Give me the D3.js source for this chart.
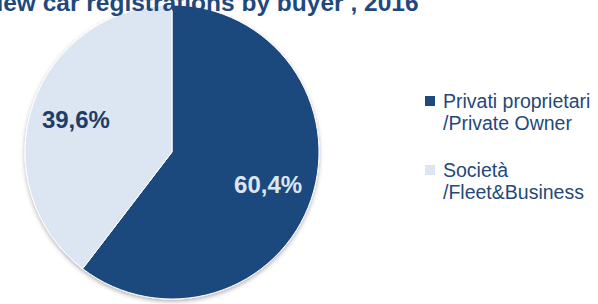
<!DOCTYPE html>
<html>
<head>
<meta charset="utf-8">
<script src="https://cdn.jsdelivr.net/npm/d3@7"></script>
<style>
  body { margin: 0; background: #fff; }
  svg { display: block; font-family: "Liberation Sans", Arial, sans-serif; }
</style>
</head>
<body>
<script>
const categories = ["Privati proprietari /Private Owner", "Società /Fleet&Business"];
const legendLines = [["Privati proprietari", "/Private Owner"], ["Società", "/Fleet&Business"]];
const values = [60.4, 39.6];
const valueLabels = ["60,4%", "39,6%"];
const title = "New car registrations by buyer , 2016";

const w = 598;
const h = 304;
const cx = 172;
const cy = 152;
const r = 147;

const colors = ["#1f497d", "#dce6f2"];
const labelColors = ["#dce6f2", "#1f3d66"];

const svg = d3.select("body").append("svg").attr("width", w).attr("height", h);

// soft shadow round the pie
const defs = svg.append("defs");
const f = defs.append("filter").attr("id", "shadow")
  .attr("x", "-10%").attr("y", "-10%").attr("width", "120%").attr("height", "120%");
f.append("feDropShadow")
  .attr("dx", 0).attr("dy", 2).attr("stdDeviation", 2)
  .attr("flood-color", "#000").attr("flood-opacity", 0.3);

const pie = d3.pie().sort(null).value((d) => d)(values);
const arc = d3.arc().innerRadius(0).outerRadius(r);
const labelArc = d3.arc().innerRadius(r * 0.69).outerRadius(r * 0.69);

const g = svg.append("g").attr("transform", "translate(" + cx + "," + cy + ")");

g.append("g")
  .attr("filter", "url(#shadow)")
  .selectAll("path")
  .data(pie)
  .enter()
  .append("path")
  .attr("d", arc)
  .attr("fill", (d, i) => colors[i])
  .attr("stroke", "#fff")
  .attr("stroke-width", 1);

g.selectAll("text.lbl")
  .data(pie)
  .enter()
  .append("text")
  .attr("class", "lbl")
  .attr("transform", (d) => "translate(" + labelArc.centroid(d) + ")")
  .attr("text-anchor", "middle")
  .attr("dy", "0.35em")
  .attr("font-size", 24)
  .attr("font-weight", "bold")
  .attr("fill", (d, i) => labelColors[i])
  .text((d, i) => valueLabels[i]);

// title, cut off by the top edge as in the source
svg.append("text")
  .attr("x", 202)
  .attr("y", 11)
  .attr("text-anchor", "middle")
  .attr("font-size", 24.5)
  .attr("font-weight", "bold")
  .attr("fill", "#1f497d")
  .text(title);

// legend
const legend = svg.append("g").attr("transform", "translate(425,96)");
const item = legend.selectAll("g")
  .data(categories)
  .enter()
  .append("g")
  .attr("transform", (d, i) => "translate(0," + i * 69 + ")");

item.append("rect")
  .attr("width", 10)
  .attr("height", 10)
  .attr("fill", (d, i) => colors[i]);

item.append("text")
  .attr("x", 18)
  .attr("y", 12)
  .attr("font-size", 19.5)
  .attr("fill", "#1f497d")
  .selectAll("tspan")
  .data((d, i) => legendLines[i])
  .enter()
  .append("tspan")
  .attr("x", 18)
  .attr("dy", (d, j) => (j === 0 ? 0 : 22))
  .text((d) => d);
</script>
</body>
</html>
